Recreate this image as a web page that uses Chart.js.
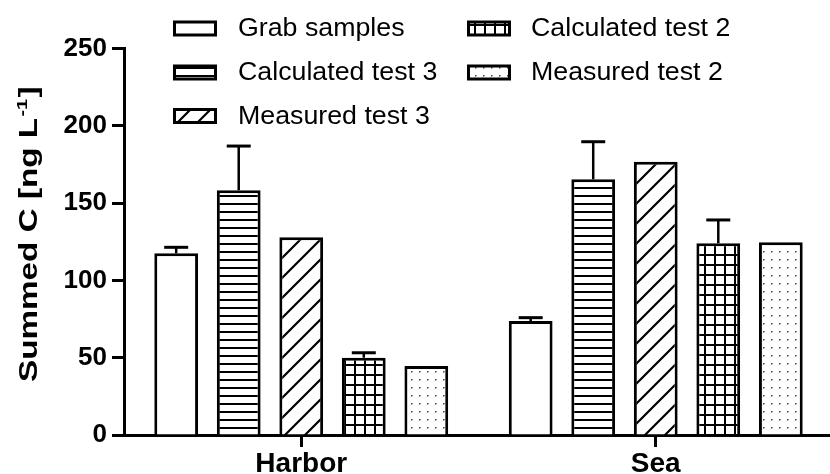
<!DOCTYPE html>
<html>
<head>
<meta charset="utf-8">
<script src="https://cdn.jsdelivr.net/npm/chart.js@4/dist/chart.umd.min.js"></script>
<style>
  html, body { margin: 0; padding: 0; background: #fff; overflow: hidden; }
  #wrap { width: 840px; height: 474px; }
</style>
</head>
<body>
<div id="wrap"><canvas id="chart" width="840" height="474"></canvas></div>
<script>
// data
var categories = ['Harbor', 'Sea'];
var seriesNames = ['Grab samples', 'Calculated test 3', 'Measured test 3', 'Calculated test 2', 'Measured test 2'];
var grabSamples = [117.5, 73.7];
var calcTest3 = [158.3, 165.4];
var measTest3 = [127.9, 176.8];
var calcTest2 = [50.0, 124.0];
var measTest2 = [44.6, 124.6];
// upper error (SD)
var grabErr = [3.9, 2.2];
var calcTest3Err = [28.6, 24.3];
var calcTest2Err = [3.2, 15.1];
var yTicks = [0, 50, 100, 150, 200, 250];

var FONT = "'Liberation Sans', Arial, sans-serif";

// fill patterns
function makePattern(w, h, draw) {
    var c = document.createElement('canvas');
    c.width = w;
    c.height = h;
    var g = c.getContext('2d');
    g.fillStyle = '#fff';
    g.fillRect(0, 0, w, h);
    g.strokeStyle = '#000';
    g.fillStyle = '#000';
    draw(g, w, h);
    return document.getElementById('chart').getContext('2d').createPattern(c, 'repeat');
}

var patWhite = '#ffffff';
var patHLines = makePattern(8, 8, function(g){
    g.fillRect(0, 3, 8, 2);
});
var patDiag = makePattern(20, 20, function(g){
    g.lineWidth = 2.2;
    g.beginPath();
    g.moveTo(-2, 22); g.lineTo(22, -2);
    g.moveTo(-12, 12); g.lineTo(12, -12);
    g.moveTo(8, 32); g.lineTo(32, 8);
    g.stroke();
});
var patGrid = makePattern(10, 10, function(g){
    g.fillRect(4, 0, 2, 10);
    g.fillRect(0, 4, 10, 2);
});
var patDots = makePattern(8, 8, function(g){
    g.fillStyle = '#444';
    g.fillRect(3, 3, 1.5, 1.5);
});

// error bars on top of the bars
var errorBars = {
    id: 'errorBars',
    afterDatasetsDraw: function(chart){
        var ctx = chart.ctx;
        var yScale = chart.scales.y;
        chart.data.datasets.forEach(function(ds, i){
            if (!ds.errors) return;
            var meta = chart.getDatasetMeta(i);
            meta.data.forEach(function(bar, j){
                var e = ds.errors[j];
                if (!e) return;
                var yTop = yScale.getPixelForValue(ds.data[j] + e);
                ctx.save();
                ctx.strokeStyle = '#000';
                ctx.lineWidth = 2.5;
                ctx.beginPath();
                ctx.moveTo(bar.x, bar.y);
                ctx.lineTo(bar.x, yTop);
                ctx.stroke();
                ctx.lineWidth = 3;
                ctx.beginPath();
                ctx.moveTo(bar.x - 12, yTop);
                ctx.lineTo(bar.x + 12, yTop);
                ctx.stroke();
                ctx.restore();
            });
        });
    }
};

// legend in two columns
var patternLegend = {
    id: 'patternLegend',
    afterDraw: function(chart){
        var ctx = chart.ctx;
        var boxX = [173, 467];
        var textX = [238, 531];
        var rowBase = [36, 80, 123.5];
        chart.data.datasets.forEach(function(ds, i){
            var col = i < 3 ? 0 : 1;
            var row = i < 3 ? i : i - 3;
            var base = rowBase[row];
            ctx.save();
            ctx.fillStyle = ds.backgroundColor;
            ctx.fillRect(boxX[col] + 1.5, base - 14, 41, 13);
            ctx.strokeStyle = '#000';
            ctx.lineWidth = 3;
            ctx.strokeRect(boxX[col] + 1.5, base - 14, 41, 13);
            ctx.translate(textX[col], base);
            ctx.scale(1.07, 1);
            ctx.fillStyle = '#000';
            ctx.font = '25px ' + FONT;
            ctx.textBaseline = 'alphabetic';
            ctx.fillText(ds.label, 0, 0);
            ctx.restore();
        });
    }
};

// rotated y title with superscript
var yTitle = {
    id: 'yTitle',
    afterDraw: function(chart){
        var ctx = chart.ctx;
        ctx.save();
        ctx.translate(37, 382);
        ctx.rotate(-Math.PI / 2);
        ctx.scale(1.33, 1);
        ctx.fillStyle = '#000';
        ctx.textBaseline = 'alphabetic';
        ctx.font = 'bold 25px ' + FONT;
        var main = 'Summed C [ng L';
        ctx.fillText(main, 0, 0);
        var w = ctx.measureText(main).width;
        ctx.font = 'bold 15px ' + FONT;
        ctx.fillText('-1', w + 1, -10);
        var w2 = ctx.measureText('-1').width;
        ctx.font = 'bold 25px ' + FONT;
        ctx.fillText(']', w + w2 + 2, 0);
        ctx.restore();
    }
};

new Chart(document.getElementById('chart'), {
    type: 'bar',
    data: {
        labels: categories,
        datasets: [
            { label: seriesNames[0], data: grabSamples, errors: grabErr, backgroundColor: patWhite },
            { label: seriesNames[1], data: calcTest3, errors: calcTest3Err, backgroundColor: patHLines },
            { label: seriesNames[2], data: measTest3, backgroundColor: patDiag },
            { label: seriesNames[3], data: calcTest2, errors: calcTest2Err, backgroundColor: patGrid },
            { label: seriesNames[4], data: measTest2, backgroundColor: patDots }
        ].map(function(d){
            d.borderColor = '#000';
            d.borderWidth = 3;
            d.borderSkipped = 'start';
            d.categoryPercentage = 0.882;
            d.barPercentage = 0.7;
            return d;
        })
    },
    options: {
        responsive: false,
        animation: false,
        layout: { padding: { top: 48.5, right: 7, bottom: 0, left: 0 } },
        plugins: {
            legend: { display: false },
            tooltip: { enabled: false }
        },
        scales: {
            x: {
                grid: {
                    offset: false,
                    drawOnChartArea: false,
                    drawTicks: true,
                    tickLength: 12,
                    tickWidth: 3,
                    tickColor: '#000'
                },
                border: { display: true, color: '#000', width: 3 },
                ticks: {
                    color: '#000',
                    padding: 0,
                    font: { family: FONT, size: 28, weight: 'bold' }
                },
                afterFit: function(s){ s.height = 39; }
            },
            y: {
                min: 0,
                max: 250,
                afterBuildTicks: function(s){
                    s.ticks = yTicks.map(function(v){ return { value: v }; });
                },
                grid: {
                    drawOnChartArea: false,
                    drawTicks: true,
                    tickLength: 12,
                    tickWidth: 3,
                    tickColor: '#000'
                },
                border: { display: true, color: '#000', width: 3 },
                ticks: {
                    color: '#000',
                    padding: 5,
                    font: { family: FONT, size: 26, weight: 'bold' }
                },
                afterFit: function(s){ s.width = 124; }
            }
        }
    },
    plugins: [errorBars, patternLegend, yTitle]
});
</script>
</body>
</html>
